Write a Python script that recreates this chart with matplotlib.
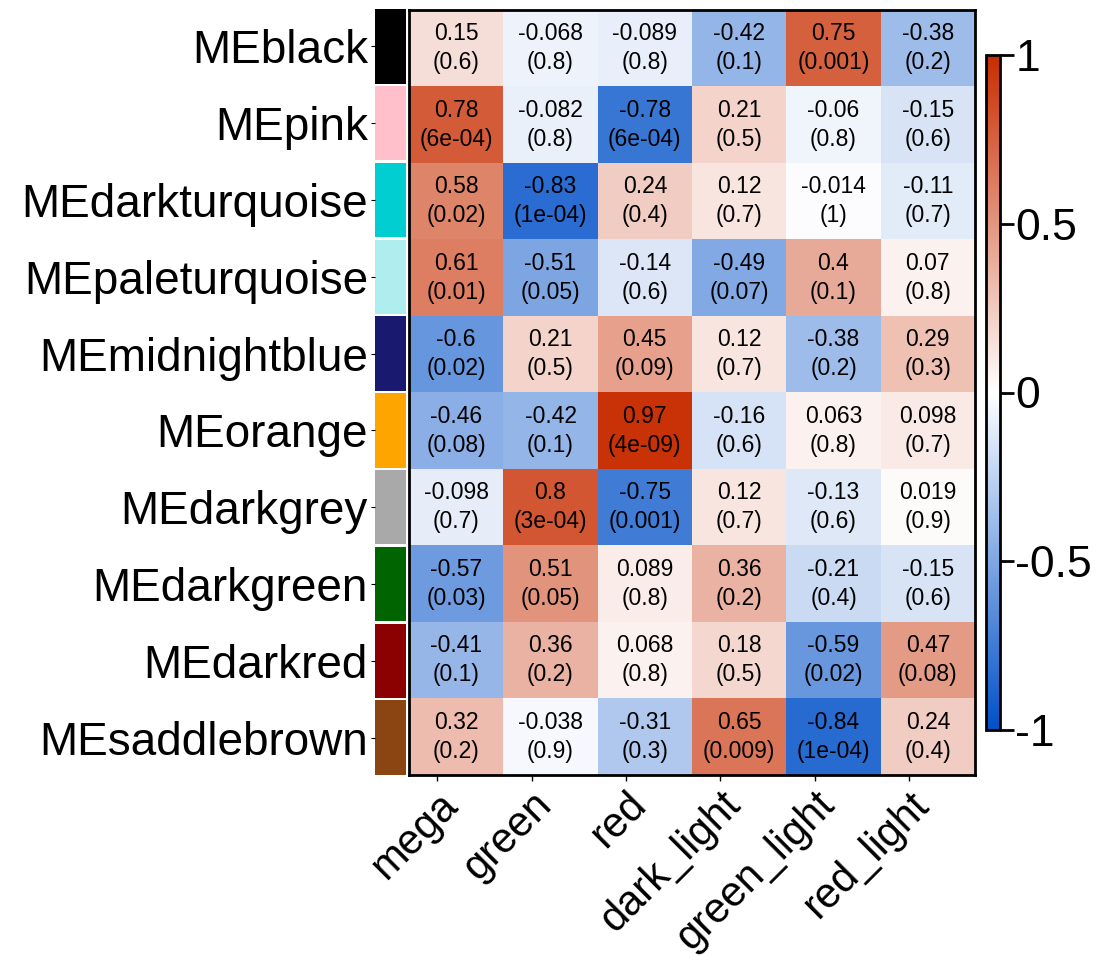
import numpy as np
import matplotlib
matplotlib.use("Agg")
import matplotlib.pyplot as plt
from matplotlib.colors import LinearSegmentedColormap

plt.rcParams['font.family'] = ['Liberation Sans', 'DejaVu Sans']

modules = ['MEblack', 'MEpink', 'MEdarkturquoise', 'MEpaleturquoise', 'MEmidnightblue',
           'MEorange', 'MEdarkgrey', 'MEdarkgreen', 'MEdarkred', 'MEsaddlebrown']
module_colors = ['black', 'pink', 'darkturquoise', 'paleturquoise', 'midnightblue',
                 'orange', 'darkgrey', 'darkgreen', 'darkred', 'saddlebrown']
traits = ['mega', 'green', 'red', 'dark_light', 'green_light', 'red_light']

cor = np.array([
    [0.15, -0.068, -0.089, -0.42, 0.75, -0.38],
    [0.78, -0.082, -0.78, 0.21, -0.06, -0.15],
    [0.58, -0.83, 0.24, 0.12, -0.014, -0.11],
    [0.61, -0.51, -0.14, -0.49, 0.4, 0.07],
    [-0.6, 0.21, 0.45, 0.12, -0.38, 0.29],
    [-0.46, -0.42, 0.97, -0.16, 0.063, 0.098],
    [-0.098, 0.8, -0.75, 0.12, -0.13, 0.019],
    [-0.57, 0.51, 0.089, 0.36, -0.21, -0.15],
    [-0.41, 0.36, 0.068, 0.18, -0.59, 0.47],
    [0.32, -0.038, -0.31, 0.65, -0.84, 0.24],
])
pvals = [
    ['0.6', '0.8', '0.8', '0.1', '0.001', '0.2'],
    ['6e-04', '0.8', '6e-04', '0.5', '0.8', '0.6'],
    ['0.02', '1e-04', '0.4', '0.7', '1', '0.7'],
    ['0.01', '0.05', '0.6', '0.07', '0.1', '0.8'],
    ['0.02', '0.5', '0.09', '0.7', '0.2', '0.3'],
    ['0.08', '0.1', '4e-09', '0.6', '0.8', '0.7'],
    ['0.7', '3e-04', '0.001', '0.7', '0.6', '0.9'],
    ['0.03', '0.05', '0.8', '0.2', '0.4', '0.6'],
    ['0.1', '0.2', '0.8', '0.5', '0.02', '0.08'],
    ['0.2', '0.9', '0.3', '0.009', '1e-04', '0.4'],
]

cmap = LinearSegmentedColormap.from_list('bwr2', ['#0050c8', '#ffffff', '#c82d00'])

W, H = 1097, 964
fig = plt.figure(figsize=(W / 100, H / 100), dpi=100)

def box(x0, y0, x1, y1):
    # pixel box -> figure fraction
    return [x0 / W, 1 - y1 / H, (x1 - x0) / W, (y1 - y0) / H]

# heatmap
ax = fig.add_axes(box(409, 10, 975, 775))
im = ax.imshow(cor, cmap=cmap, vmin=-1, vmax=1, aspect='auto', interpolation='nearest')
nr, nc = cor.shape
for i in range(nr):
    for j in range(nc):
        ax.text(j, i - 0.19, '%.2g' % cor[i, j], ha='center', va='center', fontsize=16.5)
        ax.text(j, i + 0.19, '(%s)' % pvals[i][j], ha='center', va='center', fontsize=16.5)
ax.set_xticks(np.arange(nc) - 0.2)
ax.set_xticklabels(traits, rotation=45, ha='right', va='top', rotation_mode='anchor', fontsize=30)
ax.tick_params(axis='x', length=4, width=1, pad=3)
ax.set_yticks([])
for s in ax.spines.values():
    s.set_linewidth(2)

# module colour strip
axc = fig.add_axes(box(375, 8, 406, 776))
for i, c in enumerate(module_colors):
    axc.bar(0, 0.97, bottom=i + 0.015, width=1, color=c, edgecolor='none')
axc.set_xlim(-0.5, 0.5)
axc.set_ylim(nr, 0)
axc.set_xticks([])
axc.set_yticks(np.arange(nr) + 0.5)
axc.set_yticklabels(modules, fontsize=33)
axc.tick_params(axis='y', length=3, pad=2)
for s in axc.spines.values():
    s.set_visible(False)

# colorbar
cax = fig.add_axes(box(986, 55, 1000, 730))
cb = fig.colorbar(im, cax=cax, ticks=[-1, -0.5, 0, 0.5, 1])
cb.ax.set_yticklabels(['-1', '-0.5', '0', '0.5', '1'])
cb.ax.tick_params(labelsize=32, length=10, width=2, pad=1)
cb.outline.set_linewidth(2)

fig.savefig('out.png', dpi=100)
